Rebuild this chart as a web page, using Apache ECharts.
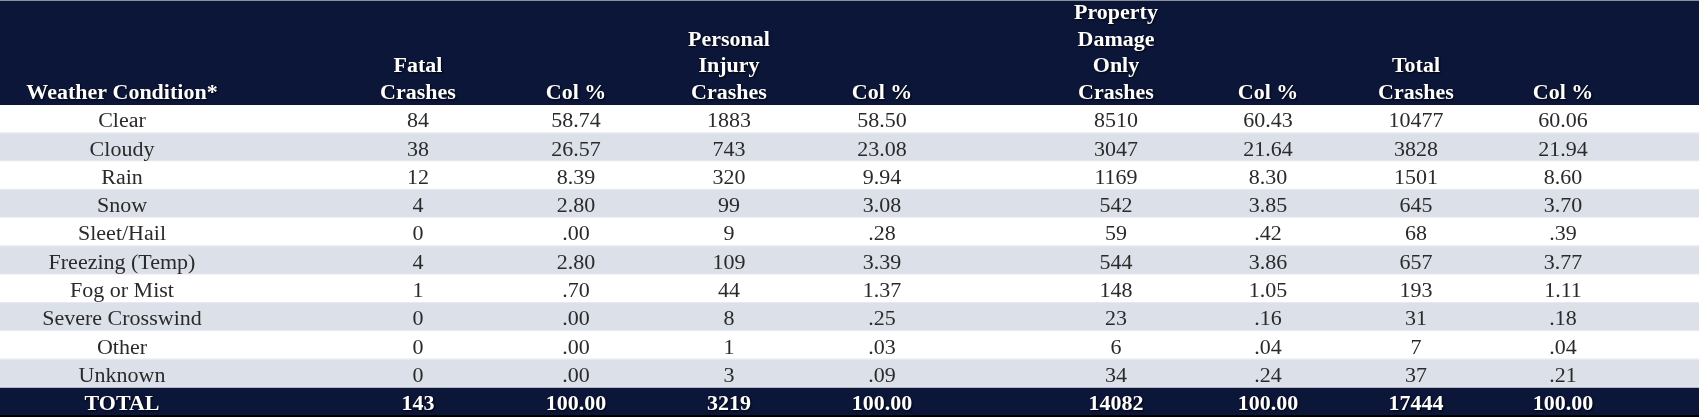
<!DOCTYPE html>
<html><head><meta charset="utf-8">
<script src="https://cdn.jsdelivr.net/npm/echarts@6/dist/echarts.min.js"></script>
<style>html,body{margin:0;padding:0;background:#fff}#c{width:1699px;height:419px}</style>
</head><body><div id="c"></div>
<script>
// ---- data ----
const conditions = ['Clear','Cloudy','Rain','Snow','Sleet/Hail','Freezing (Temp)','Fog or Mist','Severe Crosswind','Other','Unknown'];
const fatal      = [84, 38, 12, 4, 0, 4, 1, 0, 0, 0];
const fatalPct   = [58.74, 26.57, 8.39, 2.80, 0.00, 2.80, 0.70, 0.00, 0.00, 0.00];
const injury     = [1883, 743, 320, 99, 9, 109, 44, 8, 1, 3];
const injuryPct  = [58.50, 23.08, 9.94, 3.08, 0.28, 3.39, 1.37, 0.25, 0.03, 0.09];
const pdo        = [8510, 3047, 1169, 542, 59, 544, 148, 23, 6, 34];
const pdoPct     = [60.43, 21.64, 8.30, 3.85, 0.42, 3.86, 1.05, 0.16, 0.04, 0.24];
const total      = [10477, 3828, 1501, 645, 68, 657, 193, 31, 7, 37];
const totalPct   = [60.06, 21.94, 8.60, 3.70, 0.39, 3.77, 1.11, 0.18, 0.04, 0.21];
const totalLabel = 'TOTAL';
const totalRow   = [143, 100.00, 3219, 100.00, 14082, 100.00, 17444, 100.00];
const headers    = ['Weather Condition*', 'Fatal\nCrashes', 'Col %', 'Personal\nInjury\nCrashes', 'Col %',
                    'Property\nDamage\nOnly\nCrashes', 'Col %', 'Total\nCrashes', 'Col %'];

// ---- layout ----
const W = 1699;
const colX = [122, 418, 576, 729, 882, 1116, 1268, 1416, 1563];
const NAVY = '#0c1639';
const GREY = '#dce0e8';
const FONT = '"Liberation Serif", "Times New Roman", serif';
const SX = 1.1;

const fmtPct = v => v.toFixed(2).replace(/^0(?=\.)/, '');
const rows = conditions.map((c, i) => [c, fatal[i], fmtPct(fatalPct[i]), injury[i], fmtPct(injuryPct[i]),
  pdo[i], fmtPct(pdoPct[i]), total[i], fmtPct(totalPct[i])]);
rows.push([totalLabel].concat(totalRow.map((v, i) => i % 2 ? fmtPct(v) : String(v))));
const yCats = rows.map(r => r[0]);

const chart = echarts.init(document.getElementById('c'), null, {renderer: 'canvas'});

const headerGraphics = [{
  type: 'rect', shape: {x: 0, y: 1, width: W, height: 104}, style: {fill: NAVY}
}, {
  type: 'rect', shape: {x: 0, y: 0, width: W, height: 1}, style: {fill: '#8a8f9c'}
}];
headers.forEach((h, i) => {
  headerGraphics.push({
    type: 'text', x: colX[i], y: 107, scaleX: SX,
    style: {
      text: h, fill: '#fff', font: 'bold 20px ' + FONT, align: 'center', verticalAlign: 'bottom',
      lineHeight: 26.5, textShadowColor: 'rgba(0,0,0,0.85)', textShadowBlur: 2, textShadowOffsetX: 1, textShadowOffsetY: 1
    }
  });
});

chart.setOption({
  animation: false,
  grid: {left: 0, right: 0, top: 105, bottom: 3},
  xAxis: {type: 'value', min: 0, max: W, show: false},
  yAxis: {type: 'category', data: yCats, inverse: true, show: false},
  series: [{
    type: 'custom',
    data: rows.map((r, i) => [i]),
    renderItem: function (params, api) {
      const idx = api.value(0);
      const c = api.coord([0, idx]);
      const h = api.size([0, 1])[1];
      const isTotal = idx === rows.length - 1;
      const top = c[1] - h / 2;
      const children = [{
        type: 'rect', shape: {x: 0, y: top, width: W, height: h},
        style: {fill: isTotal ? NAVY : (idx % 2 ? GREY : '#ffffff')}
      }];
      if (!isTotal) {
        children.push({type: 'rect', shape: {x: 0, y: top + h - 1, width: W, height: 1}, style: {fill: idx % 2 ? '#eef0f4' : '#e6e9ef'}});
      } else {
        children.push({type: 'rect', shape: {x: 0, y: top + h - 1, width: W, height: 2}, style: {fill: '#000'}});
      }
      rows[idx].forEach((t, j) => {
        const p = api.coord([colX[j], idx]);
        children.push({
          type: 'text', x: p[0], y: p[1] + 3, scaleX: SX,
          style: {
            text: String(t), align: 'center', verticalAlign: 'middle',
            fill: isTotal ? '#ffffff' : '#2a2a2a',
            font: (isTotal ? 'bold ' : '') + '20px ' + FONT,
            textShadowColor: isTotal ? 'rgba(0,0,0,0.85)' : 'transparent', textShadowBlur: isTotal ? 2 : 0,
            textShadowOffsetX: isTotal ? 1 : 0, textShadowOffsetY: isTotal ? 1 : 0
          }
        });
      });
      return {type: 'group', children: children};
    }
  }],
  graphic: headerGraphics
});
</script></body></html>
